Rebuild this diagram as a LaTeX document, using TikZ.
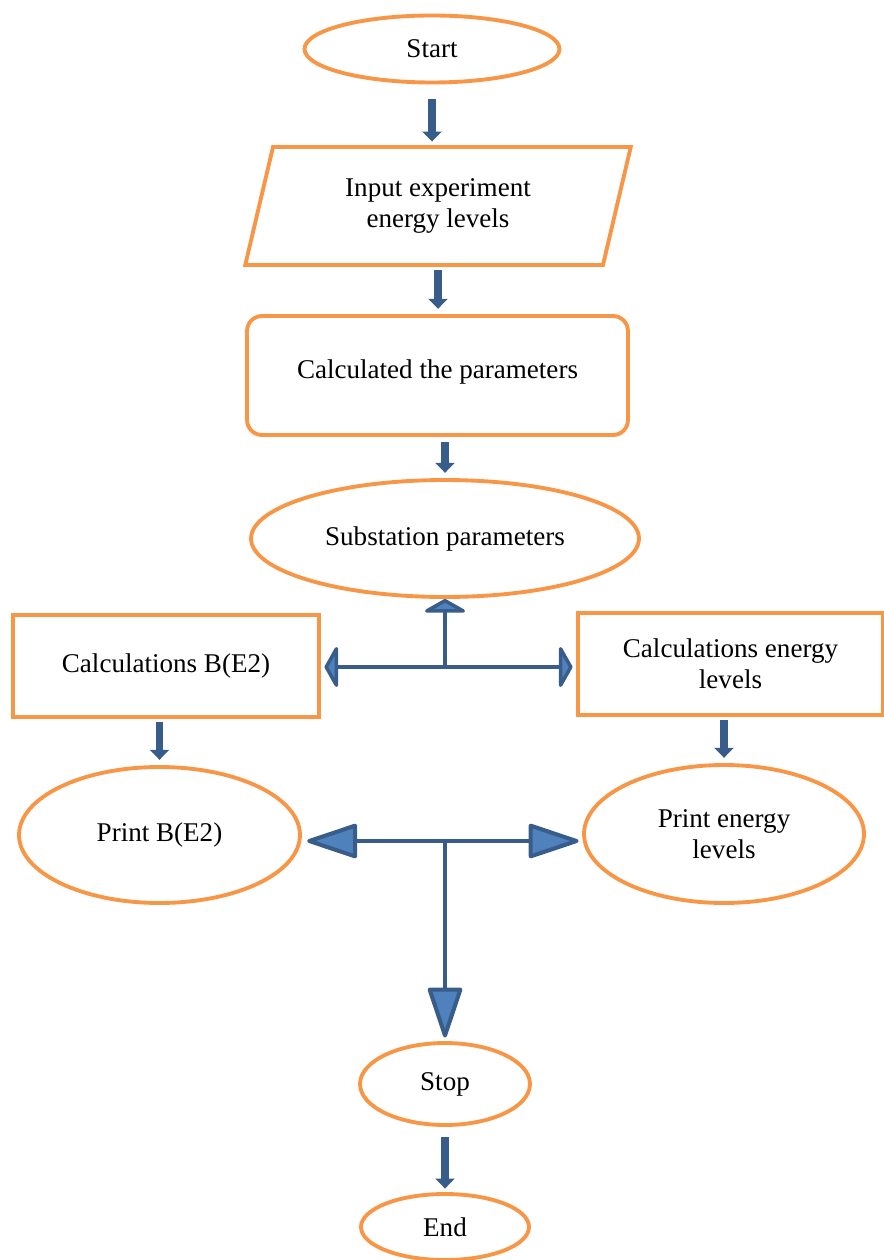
\documentclass[tikz,border=0pt]{standalone}
\usepackage{fontspec}
\setmainfont{Liberation Serif}
\usetikzlibrary{shapes.geometric,arrows.meta}

\definecolor{bordure}{HTML}{F79646}
\definecolor{fleche}{HTML}{385D8A}
\definecolor{pointe}{HTML}{4F81BD}

\begin{document}
\begin{tikzpicture}[x=0.02cm,y=-0.02cm,
  every node/.style={font=\fontsize{15.4}{17.7}\selectfont, align=center},
  bulle/.style={ellipse, draw=bordure, line width=2.2pt, inner sep=0pt},
  boite/.style={rectangle, draw=bordure, line width=2.2pt, inner sep=0pt},
  descente/.style={draw=fleche, line width=4.5pt, -{Triangle[length=5.7pt,width=10.8pt]}},
  fourche/.style={draw=fleche, line width=2.3pt, line join=round},
  petite/.tip={Triangle[length=8pt,width=28pt,fill=pointe,round]},
  grosse/.tip={Triangle[length=31pt,width=20pt,fill=pointe,round]}]
\useasboundingbox (0,0) rectangle (883,1260);

%Blocs
\node[bulle, minimum width=5.1cm, minimum height=1.34cm] (debut) at (432,49) {Start};
\node[trapezium, trapezium stretches=true, trapezium left angle=76, trapezium right angle=104,
  draw=bordure, line width=2.2pt, minimum width=7.72cm, minimum height=2.36cm] (entree) at (438,206) {Input experiment\\energy levels};
\node[boite, rounded corners=0.3cm, minimum width=7.62cm, minimum height=2.38cm, text depth=0.25cm] (calcul) at (437.5,375.5) {Calculated the parameters};
\node[bulle, minimum width=7.76cm, minimum height=2.34cm] (substit) at (445,538.5) {Substation parameters};
\node[boite, minimum width=6.12cm, minimum height=2.04cm] (calcB) at (166,666) {Calculations B(E2)};
\node[boite, minimum width=6.1cm, minimum height=2.04cm] (calcE) at (730.5,664) {Calculations energy\\levels};
\node[bulle, minimum width=5.62cm, minimum height=2.72cm] (printB) at (159.5,835) {Print B(E2)};
\node[bulle, minimum width=5.6cm, minimum height=2.76cm] (printE) at (724,834) {Print energy\\levels};
\node[bulle, minimum width=3.4cm, minimum height=1.64cm] (stop) at (445,1084) {Stop};
\node[bulle, minimum width=3.36cm, minimum height=1.32cm] (fin) at (445,1227) {End};

%Fourches
\coordinate (j1) at (445,667);
\coordinate (j2) at (445,841);

%Flèches
\draw[descente, shorten <=0.3cm, shorten >=2pt] (debut.south) -- (debut.south |- entree.north);
\draw[descente, shorten <=2pt, shorten >=3pt] (entree.south) -- (entree.south |- calcul.north);
\draw[descente, shorten <=3pt, shorten >=3pt] (substit.north |- calcul.south) -- (substit.north);
\draw[fourche, -petite] (j1) -- (j1 |- substit.south);
\draw[fourche, petite-petite, shorten <=2pt, shorten >=2pt] (calcB.east |- j1) -- (calcE.west |- j1);
\draw[descente, shorten <=2pt, shorten >=3pt] (printB.north |- calcB.south) -- (printB.north);
\draw[descente, shorten <=2pt, shorten >=3pt] (printE.north |- calcE.south) -- (printE.north);
\draw[fourche, grosse-grosse, shorten <=3pt, shorten >=2pt] (printB.east |- j2) -- (printE.west |- j2);
\draw[fourche, -grosse, shorten >=2pt] (j2) -- (j2 |- stop.north);
\draw[descente, shorten <=0.2cm, shorten >=2pt] (stop.south) -- (fin.north);

\end{tikzpicture}
\end{document}
